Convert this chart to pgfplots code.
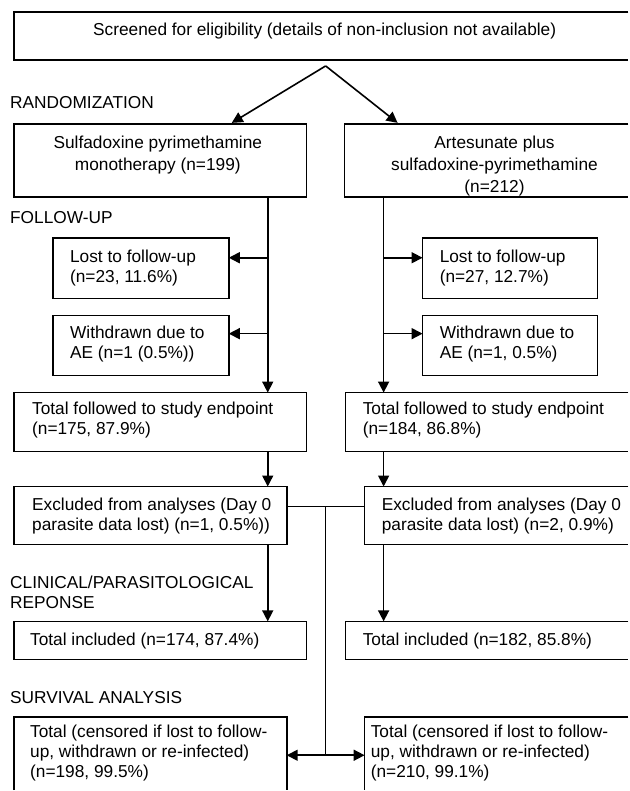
\documentclass[border=0pt]{standalone}
\usepackage{pgfplots}
\pgfplotsset{compat=1.18}
\usepackage{fontspec}
\setmainfont{Liberation Sans}
\usetikzlibrary{arrows.meta}
\begin{document}
\begin{tikzpicture}[
  txt/.style={font=\fontsize{17.3}{20}\selectfont, inner sep=0pt, align=left, anchor=west},
  ctxt/.style={font=\fontsize{17.3}{20}\selectfont, inner sep=0pt, align=center, anchor=center},
]
\begin{axis}[
  width=629pt, height=791pt, scale only axis,
  xmin=0, xmax=629, ymin=0, ymax=791, y dir=reverse,
  axis line style={draw=none}, ticks=none, clip=false,
  bx/.style={black, solid, line width=1.6pt, line join=miter, mark=none},
  arr/.style={bx, -{Triangle[length=11pt,width=11pt]}},
]
% ---- boxes ----
\addplot[bx] coordinates {(629,12) (14,12) (14,60) (629,60)};
\addplot[bx] coordinates {(14,124) (307,124) (307,197) (14,197)} --cycle;
\addplot[bx] coordinates {(629,124) (345,124) (345,197) (629,197)};
\addplot[bx] coordinates {(53,238) (229,238) (229,299) (53,299)} --cycle;
\addplot[bx] coordinates {(53,316) (229,316) (229,376) (53,376)} --cycle;
\addplot[bx] coordinates {(423,238) (598,238) (598,299) (423,299)} --cycle;
\addplot[bx] coordinates {(423,316) (598,316) (598,376) (423,376)} --cycle;
\addplot[bx] coordinates {(14,393) (307,393) (307,452) (14,452)} --cycle;
\addplot[bx] coordinates {(629,393) (346,393) (346,452) (629,452)};
\addplot[bx] coordinates {(14,487) (287,487) (287,545) (14,545)} --cycle;
\addplot[bx] coordinates {(629,487) (365,487) (365,545) (629,545)};
\addplot[bx] coordinates {(14,622) (307,622) (307,660) (14,660)} --cycle;
\addplot[bx] coordinates {(629,622) (346,622) (346,660) (629,660)};
\addplot[bx] coordinates {(14,791) (14,718) (287,718) (287,791)};
\addplot[bx] coordinates {(629,718) (365,718) (365,791)};
% ---- connectors ----
\addplot[arr] coordinates {(326,66) (232,123)};
\addplot[arr] coordinates {(326,66) (398,123)};
\addplot[arr] coordinates {(268,197) (268,393)};
\addplot[arr] coordinates {(384,197) (384,393)};
\addplot[arr] coordinates {(268,258) (229,258)};
\addplot[arr] coordinates {(268,334) (229,334)};
\addplot[arr] coordinates {(384,258) (423,258)};
\addplot[arr] coordinates {(384,334) (423,334)};
\addplot[arr] coordinates {(268,452) (268,487)};
\addplot[arr] coordinates {(384,452) (384,487)};
\addplot[arr] coordinates {(268,545) (268,622)};
\addplot[arr] coordinates {(384,545) (384,622)};
\addplot[bx] coordinates {(287,507) (365,507)};
\addplot[bx] coordinates {(326,507) (326,756)};
\addplot[arr] coordinates {(326,756) (287,756)};
\addplot[arr] coordinates {(326,756) (365,756)};
% ---- text ----
\node[ctxt] at (axis cs:325,31) {Screened for eligibility (details of non-inclusion not available)};
\node[txt] at (axis cs:10,103) {RANDOMIZATION};
\node[ctxt] at (axis cs:158,155) {Sulfadoxine pyrimethamine\\[2pt]monotherapy (n=199)};
\node[ctxt] at (axis cs:495,166) {Artesunate plus\\[2pt]sulfadoxine-pyrimethamine\\[2pt](n=212)};
\node[txt] at (axis cs:10,218) {FOLLOW-UP};
\node[txt] at (axis cs:70,268) {Lost to follow-up\\(n=23, 11.6\%)};
\node[txt] at (axis cs:70,344) {Withdrawn due to\\AE (n=1 (0.5\%))};
\node[txt] at (axis cs:440,268) {Lost to follow-up\\(n=27, 12.7\%)};
\node[txt] at (axis cs:440,344) {Withdrawn due to\\AE (n=1, 0.5\%)};
\node[txt] at (axis cs:32,420) {Total followed to study endpoint\\(n=175, 87.9\%)};
\node[txt] at (axis cs:363,420) {Total followed to study endpoint\\(n=184, 86.8\%)};
\node[txt] at (axis cs:32,517) {Excluded from analyses (Day 0\\parasite data lost) (n=1, 0.5\%))};
\node[txt] at (axis cs:382,517) {Excluded from analyses (Day 0\\parasite data lost) (n=2, 0.9\%)};
\node[txt] at (axis cs:10,593) {CLINICAL/PARASITOLOGICAL\\REPONSE};
\node[txt] at (axis cs:30,642) {Total included (n=174, 87.4\%)};
\node[txt] at (axis cs:363,642) {Total included (n=182, 85.8\%)};
\node[txt] at (axis cs:10,698) {SURVIVAL ANALYSIS};
\node[txt] at (axis cs:30,754) {Total (censored if lost to follow-\\up, withdrawn or re-infected)\\(n=198, 99.5\%)};
\node[txt] at (axis cs:371,754) {Total (censored if lost to follow-\\up, withdrawn or re-infected)\\(n=210, 99.1\%)};
\end{axis}
\end{tikzpicture}
\end{document}
